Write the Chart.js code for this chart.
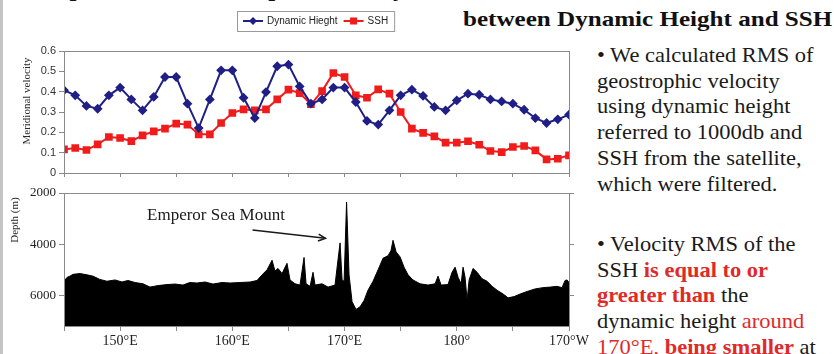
<!DOCTYPE html>
<html>
<head>
<meta charset="utf-8">
<script src="https://cdn.jsdelivr.net/npm/chart.js@4"></script>
<style>
  html, body { margin: 0; padding: 0; background: #fff; }
  body { width: 834px; height: 354px; position: relative; overflow: hidden; }
  .edge { position: absolute; left: 0; top: 0; width: 3px; height: 354px; background: #c4c4c4; }
  canvas { position: absolute; left: 0; }
  .title { position: absolute; font: bold 22px "Liberation Serif", serif; line-height: 22px; color: #111;
           white-space: nowrap; transform: scaleX(1.14); transform-origin: left top; }
  .body { position: absolute; left: 597px; font: 21px "Liberation Serif", serif; line-height: 25.7px; color: #1a1a1a;
          white-space: nowrap; transform: scaleX(1.07); transform-origin: left top; }
  .red { color: #e02a2a; }
</style>
</head>
<body>
<div class="edge"></div>
<div class="title" style="left:18px; top:-22px;">Comparison of Geostrophic Velocity RMS</div>
<div class="title" style="left:463px; top:8px;">between Dynamic Height and SSH</div>
<div class="body" style="top:43px;">• We calculated RMS of<br>geostrophic velocity<br>using dynamic height<br>referred to 1000db and<br>SSH from the satellite,<br>which were filtered.</div>
<div class="body" style="top:232px;">• Velocity RMS of the<br>SSH <b class="red">is equal to or</b><br><b class="red">greater than</b> the<br>dynamic height <span class="red">around</span><br><span class="red">170°E, <b>being smaller</b></span> at</div>

<canvas id="vel" width="580" height="185" style="top:0px"></canvas>
<canvas id="depth" width="595" height="168" style="top:180px"></canvas>

<script>
// longitude of each velocity point (degrees east, 190 = 170W)
const lons = [145,146,147,148,149,150,151,152,153,154,155,156,157,158,159,160,161,162,163,164,165,166,167,
  168,169,170,171,172,173,174,175,176,177,178,179,180,181,182,183,184,185,186,187,188,189,190];

const dynHeight = [0.407,0.382,0.330,0.316,0.382,0.420,0.362,0.308,0.374,0.472,0.472,0.341,0.221,0.362,0.505,0.505,
  0.370,0.270,0.398,0.525,0.533,0.426,0.341,0.362,0.420,0.420,0.349,0.256,0.238,0.308,0.382,0.410,0.379,0.325,
  0.308,0.357,0.390,0.385,0.362,0.352,0.341,0.311,0.270,0.246,0.264,0.287];

const ssh = [0.116,0.123,0.113,0.141,0.177,0.172,0.157,0.185,0.205,0.218,0.243,0.238,0.190,0.190,0.246,0.295,
  0.313,0.308,0.313,0.362,0.410,0.393,0.338,0.403,0.492,0.472,0.382,0.370,0.411,0.390,0.300,0.218,0.197,0.180,
  0.149,0.149,0.156,0.139,0.108,0.103,0.128,0.133,0.111,0.067,0.070,0.087];

const velTicks = [0, 0.1, 0.2, 0.3, 0.4, 0.5, 0.6];

// bathymetry profile along the section
const bathyLon = [145.0,145.27,145.53,145.8,146.43,147.05,147.58,148.2,148.83,149.55,150.17,150.7,151.33,152.04,
  152.66,153.38,154.18,154.9,155.6,156.2,156.85,157.57,158.28,159.08,159.8,160.69,161.58,162.2,162.65,163.1,
  163.54,163.8,164.07,164.43,164.87,165.14,165.59,166.03,166.39,166.57,166.93,167.19,167.37,167.99,168.53,
  169.15,169.42,169.6,169.78,169.96,170.18,170.4,170.67,171.02,171.38,171.74,172.09,172.54,172.99,173.43,
  173.88,174.14,174.32,174.59,174.95,175.3,175.66,176.1,176.73,177.44,178.07,178.33,178.6,179.22,179.58,
  179.85,180.12,180.39,180.56,180.74,180.92,181.1,181.45,181.81,182.25,182.7,183.15,183.59,184.13,184.57,
  185.11,185.64,186.27,186.98,187.69,188.32,188.94,189.38,189.65,189.83,190.0];
const bathyDepth = [5450,5300,5250,5180,5150,5200,5250,5380,5450,5400,5480,5420,5500,5550,
  5680,5620,5580,5560,5600,5500,5520,5480,5560,5500,5520,5500,5480,5420,5200,5000,
  4630,5050,4950,5150,4750,5400,5550,5600,4520,5550,5650,5100,5600,5550,5680,
  5600,4600,3950,5400,5450,2350,5200,6250,6550,6450,6200,5800,5450,5000,4550,
  4450,4250,3850,4300,4500,4900,5200,5400,5550,5600,5550,5250,5600,5580,5100,
  4900,5300,5550,4900,5300,6200,5400,4950,5100,5350,5450,5650,5800,5950,6100,
  6050,5950,5850,5750,5700,5680,5650,5700,5420,5400,5500];

const depthTicks = [2000, 4000, 6000];
const depthMin = 2000, depthMax = 7200;
const lonTicks = [145,150,155,160,165,170,175,180,185,190];
const lonLabelAt = [150, 160, 170, 180, 190];
const lonLabels = ['150°E', '160°E', '170°E', '180°', '170°W'];

const axisGray = '#8a8a8a';
const blue = '#1f1f86';
const red = '#f01c1c';

// gray frame round the plot area
const frame = {
  id: 'frame',
  afterDatasetsDraw(chart) {
    const a = chart.chartArea, c = chart.ctx;
    c.save();
    c.strokeStyle = axisGray;
    c.lineWidth = 1;
    c.strokeRect(Math.round(a.left) + 0.5, Math.round(a.top) + 0.5, Math.round(a.right - a.left), Math.round(a.bottom - a.top));
    c.restore();
  }
};

// rotated axis title drawn where the slide has it
function sideTitle(text, x, y, size) {
  return {
    id: 'sideTitle',
    afterDraw(chart) {
      const c = chart.ctx;
      c.save();
      c.translate(x, y);
      c.rotate(-Math.PI / 2);
      c.font = size + 'px "Liberation Serif"';
      c.fillStyle = '#2a2a2a';
      c.textAlign = 'center';
      c.textBaseline = 'middle';
      c.fillText(text, 0, 0);
      c.restore();
    }
  };
}

// boxed legend with line+marker like the excel one
const boxLegend = {
  id: 'boxLegend',
  afterDraw(chart) {
    const c = chart.ctx;
    const left = 237, top = 11, h = 20, cy = top + h / 2;
    c.save();
    c.font = '10px "Liberation Sans"';
    c.textBaseline = 'middle';
    let x = left + 6;
    const items = chart.data.datasets;
    items.forEach((ds, i) => {
      c.strokeStyle = ds.borderColor;
      c.fillStyle = ds.borderColor;
      c.lineWidth = 2;
      c.beginPath(); c.moveTo(x, cy); c.lineTo(x + 20, cy); c.stroke();
      if (ds.pointStyle === 'rect') {
        c.fillRect(x + 6.5, cy - 3.5, 7, 7);
      } else {
        c.beginPath();
        c.moveTo(x + 10, cy - 4); c.lineTo(x + 14, cy); c.lineTo(x + 10, cy + 4); c.lineTo(x + 6, cy);
        c.closePath(); c.fill();
      }
      x += 24;
      c.fillStyle = '#222';
      c.fillText(ds.label, x, cy + 0.5);
      x += c.measureText(ds.label).width + 6;
    });
    c.strokeStyle = '#9a9a9a';
    c.lineWidth = 1;
    c.strokeRect(left + 0.5, top + 0.5, x - left, h);
    c.restore();
  }
};

new Chart(document.getElementById('vel'), {
  type: 'line',
  data: {
    datasets: [{
      label: 'Dynamic Hieght',
      data: lons.map((x, i) => ({ x: x, y: dynHeight[i] })),
      borderColor: blue,
      backgroundColor: blue,
      borderWidth: 2,
      pointStyle: 'rectRot',
      pointRadius: 3.5,
      tension: 0
    }, {
      label: 'SSH',
      data: lons.map((x, i) => ({ x: x, y: ssh[i] })),
      borderColor: red,
      backgroundColor: red,
      borderWidth: 2,
      pointStyle: 'rect',
      pointRadius: 4,
      tension: 0
    }]
  },
  options: {
    responsive: false,
    animation: false,
    layout: { padding: { top: 51, right: 11, left: 0, bottom: 0 } },
    plugins: { legend: { display: false }, tooltip: { enabled: false } },
    scales: {
      x: {
        type: 'linear', min: 145, max: 190,
        afterBuildTicks: s => { s.ticks = lonTicks.map(v => ({ value: v })); },
        ticks: { display: false },
        grid: { drawOnChartArea: false, tickLength: 4, color: axisGray },
        border: { color: axisGray },
        afterFit: s => { s.height = 12; }
      },
      y: {
        min: 0, max: 0.6,
        afterBuildTicks: s => { s.ticks = velTicks.map(v => ({ value: v })); },
        ticks: {
          color: '#333', padding: 3,
          font: { family: 'Liberation Sans', size: 11 },
          callback: v => v === 0 ? '0' : v.toFixed(1)
        },
        grid: { drawOnChartArea: false, tickLength: 5, color: axisGray },
        border: { color: axisGray },
        afterFit: s => { s.width = 64; }
      }
    }
  },
  plugins: [frame, boxLegend, sideTitle('Meridional velocity', 27, 101, 11)]
});

// annotation for the sea mount, placed in data coordinates
const seaMount = {
  id: 'seaMount',
  afterDraw(chart) {
    const c = chart.ctx, xs = chart.scales.x, ys = chart.scales.y;
    const tx = xs.getPixelForValue(152.4), ty = ys.getPixelForValue(3060);
    const x0 = xs.getPixelForValue(161.8), y0 = ys.getPixelForValue(3450);
    const x1 = xs.getPixelForValue(168.3), y1 = ys.getPixelForValue(3770);
    c.save();
    c.font = '17px "Liberation Serif"';
    c.fillStyle = '#1a1a1a';
    c.textBaseline = 'alphabetic';
    c.fillText('Emperor Sea Mount', tx, ty);
    c.strokeStyle = '#1a1a1a';
    c.lineWidth = 1.5;
    c.beginPath(); c.moveTo(x0, y0); c.lineTo(x1, y1); c.stroke();
    const ang = Math.atan2(y1 - y0, x1 - x0);
    c.beginPath();
    c.moveTo(x1 - 8 * Math.cos(ang - 0.45), y1 - 8 * Math.sin(ang - 0.45));
    c.lineTo(x1, y1);
    c.lineTo(x1 - 8 * Math.cos(ang + 0.45), y1 - 8 * Math.sin(ang + 0.45));
    c.stroke();
    c.restore();
  }
};

new Chart(document.getElementById('depth'), {
  type: 'line',
  data: {
    datasets: [{
      label: 'Depth',
      data: bathyLon.map((x, i) => ({ x: x, y: bathyDepth[i] })),
      borderColor: '#000',
      backgroundColor: '#000',
      borderWidth: 1,
      pointRadius: 0,
      tension: 0,
      fill: { value: depthMax }
    }]
  },
  options: {
    responsive: false,
    animation: false,
    layout: { padding: { top: 13, right: 20, left: 0, bottom: 0 } },
    plugins: { legend: { display: false }, tooltip: { enabled: false } },
    scales: {
      x: {
        type: 'linear', min: 145, max: 190,
        afterBuildTicks: s => { s.ticks = lonTicks.map(v => ({ value: v })); },
        ticks: {
          color: '#222', padding: 2, maxRotation: 0, autoSkip: false,
          font: { family: 'Liberation Serif', size: 14 },
          callback: v => { const k = lonLabelAt.indexOf(v); return k < 0 ? '' : lonLabels[k]; }
        },
        grid: { drawOnChartArea: false, tickLength: 5, color: axisGray },
        border: { color: axisGray },
        afterFit: s => { s.height = 22; }
      },
      y: {
        reverse: true, min: depthMin, max: depthMax,
        afterBuildTicks: s => { s.ticks = depthTicks.map(v => ({ value: v })); },
        ticks: { color: '#222', padding: 3, font: { family: 'Liberation Serif', size: 13 }, callback: v => String(v) },
        grid: { drawOnChartArea: false, tickLength: 5, color: axisGray },
        border: { color: axisGray },
        afterFit: s => { s.width = 64; }
      },
      y2: {
        position: 'right', reverse: true, min: depthMin, max: depthMax,
        afterBuildTicks: s => { s.ticks = depthTicks.map(v => ({ value: v })); },
        ticks: { display: false },
        grid: { drawOnChartArea: false, tickLength: 5, color: axisGray },
        border: { color: axisGray },
        afterFit: s => { s.width = 6; }
      }
    }
  },
  plugins: [frame, seaMount, sideTitle('Depth (m)', 15, 40, 11)]
});
</script>
</body>
</html>
